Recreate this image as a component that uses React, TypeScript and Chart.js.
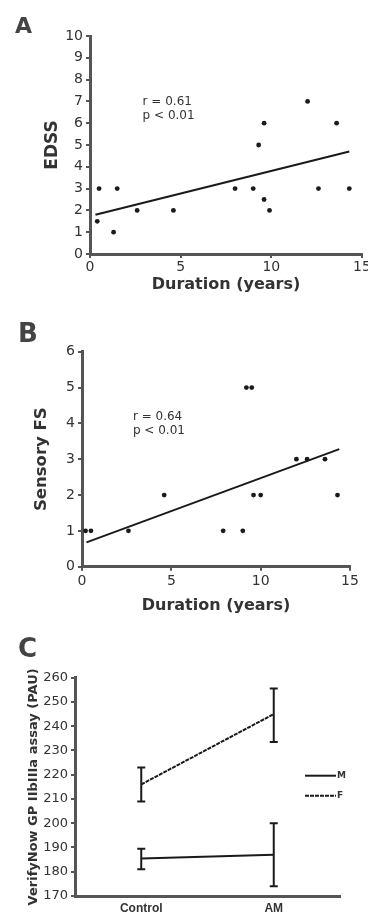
import React, { useEffect, useRef } from 'react';
import { Chart, registerables } from 'chart.js';

Chart.register(...registerables);
Chart.defaults.font.family = "'DejaVu Sans', sans-serif";

// ---------- Panel A data ----------
const durationA = [0.5, 0.4, 1.5, 1.3, 2.6, 4.6, 8.0, 9.0, 9.3, 9.6, 9.6, 9.9, 12.0, 12.6, 13.6, 14.3];
const edss = [3, 1.5, 3, 1, 2, 2, 3, 3, 5, 6, 2.5, 2, 7, 3, 6, 3];
const fitAx = [0.3, 14.3];
const fitAy = [1.8, 4.7];
const statsA = ['r = 0.61', 'p < 0.01'];
const statsAPos = { x: 2.9, y: [7.0, 6.35] };
const ticksA = { xMax: 15, xStep: 5, yMax: 10, yStep: 1 };

// ---------- Panel B data ----------
const durationB = [0.2, 0.5, 2.6, 4.6, 7.9, 9.0, 9.2, 9.5, 9.6, 10.0, 12.0, 12.6, 13.6, 14.3];
const sensoryFS = [1, 1, 1, 2, 1, 1, 5, 5, 2, 2, 3, 3, 3, 2];
const fitBx = [0.25, 14.4];
const fitBy = [0.68, 3.28];
const statsB = ['r = 0.64', 'p < 0.01'];
const statsBPos = { x: 2.85, y: [4.18, 3.79] };
const ticksB = { xMax: 15, xStep: 5, yMax: 6, yStep: 1 };

// ---------- Panel C data ----------
const groups = ['Control', 'AM'];
const seriesLabels = ['M', 'F'];
const meanM = [185.5, 187];
const lowM = [181, 174];
const highM = [189.5, 200];
const meanF = [216, 245];
const lowF = [209, 233.5];
const highF = [223, 255.5];
const yRangeC = { min: 170, max: 260, step: 10 };

const AXIS = '#555';
const TEXT = '#333';
const INK = '#1a1a1a';

const statsPlugin = {
  id: 'statsText',
  afterDatasetsDraw(chart: any, _args: any, opts: any) {
    if (!opts || !opts.lines) return;
    const { ctx } = chart;
    const xs = chart.scales.x;
    const ys = chart.scales.y;
    ctx.save();
    ctx.fillStyle = TEXT;
    ctx.font = "12px 'DejaVu Sans'";
    ctx.textAlign = 'left';
    ctx.textBaseline = 'middle';
    opts.lines.forEach((t: string, i: number) => {
      ctx.fillText(t, xs.getPixelForValue(opts.x), ys.getPixelForValue(opts.y[i]));
    });
    ctx.restore();
  },
};

const errorBarPlugin = {
  id: 'errorBars',
  afterDatasetsDraw(chart: any) {
    const { ctx } = chart;
    const ys = chart.scales.y;
    chart.data.datasets.forEach((ds: any, di: number) => {
      if (!ds.errLow) return;
      const meta = chart.getDatasetMeta(di);
      meta.data.forEach((pt: any, i: number) => {
        const x = pt.x;
        const yl = ys.getPixelForValue(ds.errLow[i]);
        const yh = ys.getPixelForValue(ds.errHigh[i]);
        ctx.save();
        ctx.strokeStyle = INK;
        ctx.lineWidth = 2;
        ctx.beginPath();
        ctx.moveTo(x, yl);
        ctx.lineTo(x, yh);
        ctx.moveTo(x - 4, yl);
        ctx.lineTo(x + 4, yl);
        ctx.moveTo(x - 4, yh);
        ctx.lineTo(x + 4, yh);
        ctx.stroke();
        ctx.restore();
      });
    });
  },
};

const legendPlugin = {
  id: 'sideLegend',
  afterDraw(chart: any) {
    const { ctx, chartArea } = chart;
    const order = [0, 1];
    ctx.save();
    order.forEach((di, row) => {
      const ds = chart.data.datasets[di];
      const y = chartArea.top + 98 + row * 20;
      ctx.strokeStyle = INK;
      ctx.lineWidth = 2;
      ctx.setLineDash(ds.borderDash || []);
      ctx.beginPath();
      ctx.moveTo(chartArea.right - 35, y);
      ctx.lineTo(chartArea.right - 4, y);
      ctx.stroke();
      ctx.setLineDash([]);
      ctx.fillStyle = TEXT;
      ctx.font = "bold 9px 'DejaVu Sans'";
      ctx.textAlign = 'left';
      ctx.textBaseline = 'middle';
      ctx.fillText(ds.label, chartArea.right - 3, y);
    });
    ctx.restore();
  },
};

function scatterConfig(p: any): any {
  return {
    type: 'scatter',
    data: {
      datasets: [
        {
          data: p.xs.map((x: number, i: number) => ({ x, y: p.ys[i] })),
          pointRadius: 2.4,
          pointBackgroundColor: INK,
          pointBorderWidth: 0,
          clip: false,
        },
        {
          data: p.fx.map((x: number, i: number) => ({ x, y: p.fy[i] })),
          showLine: true,
          pointRadius: 0,
          borderColor: INK,
          borderWidth: 2,
          clip: false,
        },
      ],
    },
    options: {
      animation: false,
      responsive: false,
      layout: { padding: { top: p.padTop, right: p.padRight, left: 0, bottom: 0 } },
      plugins: {
        legend: { display: false },
        tooltip: { enabled: false },
        statsText: { lines: p.stats, x: p.statsPos.x, y: p.statsPos.y },
      },
      scales: {
        x: {
          type: 'linear',
          min: 0,
          max: p.ticks.xMax,
          ticks: { stepSize: p.ticks.xStep, font: { size: 14 }, color: TEXT, padding: p.xTickPad },
          grid: { display: true, drawOnChartArea: false, drawTicks: true, tickLength: 4, color: AXIS, lineWidth: 2 },
          border: { display: true, color: AXIS, width: 3 },
          title: {
            display: true,
            text: 'Duration (years)',
            font: { size: 16, weight: 'bold' },
            color: TEXT,
            padding: { top: 0, bottom: p.xTitlePad },
          },
          afterFit: (s: any) => {
            s.height = p.xHeight;
            s.paddingLeft = 0;
            s.paddingRight = 0;
          },
        },
        y: {
          type: 'linear',
          min: 0,
          max: p.ticks.yMax,
          ticks: { stepSize: p.ticks.yStep, font: { size: 14 }, color: TEXT, padding: 3 },
          grid: { display: true, drawOnChartArea: false, drawTicks: true, tickLength: 4, color: AXIS, lineWidth: 2 },
          border: { display: true, color: AXIS, width: 3 },
          title: {
            display: true,
            text: p.yTitle,
            font: { size: p.yTitleSize, weight: 'bold' },
            color: TEXT,
            padding: { top: p.yTitlePad, bottom: 0 },
          },
          afterFit: (s: any) => {
            s.width = p.yWidth;
            s.paddingTop = 0;
            s.paddingBottom = 0;
          },
        },
      },
    },
    plugins: [statsPlugin],
  };
}

function lineConfig(): any {
  return {
    type: 'line',
    data: {
      labels: groups,
      datasets: [
        {
          label: seriesLabels[0],
          data: meanM,
          errLow: lowM,
          errHigh: highM,
          borderColor: INK,
          borderWidth: 2,
          pointRadius: 0,
          clip: false,
        },
        {
          label: seriesLabels[1],
          data: meanF,
          errLow: lowF,
          errHigh: highF,
          borderColor: INK,
          borderWidth: 2,
          borderDash: [4, 1],
          pointRadius: 0,
          clip: false,
        },
      ],
    },
    options: {
      animation: false,
      responsive: false,
      layout: { padding: { top: 59.7, right: 28, left: 0, bottom: 0 } },
      plugins: { legend: { display: false }, tooltip: { enabled: false } },
      scales: {
        x: {
          type: 'category',
          offset: true,
          ticks: { font: { size: 12, weight: 'bold', family: "'Liberation Sans'" }, color: TEXT, padding: -3 },
          grid: { display: false },
          border: { display: true, color: AXIS, width: 3 },
          afterFit: (s: any) => {
            s.height = 21;
            s.paddingLeft = 0;
            s.paddingRight = 0;
          },
        },
        y: {
          type: 'linear',
          min: yRangeC.min,
          max: yRangeC.max,
          ticks: { stepSize: yRangeC.step, font: { size: 13 }, color: TEXT, padding: 3 },
          grid: { display: true, drawOnChartArea: false, drawTicks: true, tickLength: 4, color: AXIS, lineWidth: 2 },
          border: { display: true, color: AXIS, width: 3 },
          title: {
            display: true,
            text: 'VerifyNow GP IIbIIIa assay (PAU)',
            font: { size: 13, weight: 'bold' },
            color: TEXT,
            padding: { top: 26, bottom: 0 },
          },
          afterFit: (s: any) => {
            s.width = 75;
            s.paddingTop = 0;
            s.paddingBottom = 0;
          },
        },
      },
    },
    plugins: [errorBarPlugin, legendPlugin],
  };
}

function ChartCanvas({ config, top, height }: { config: () => any; top: number; height: number }) {
  const ref = useRef<HTMLCanvasElement | null>(null);
  useEffect(() => {
    if (!ref.current) return;
    const chart = new Chart(ref.current, config());
    return () => chart.destroy();
  }, []);
  return (
    <canvas
      ref={ref}
      width={368}
      height={height}
      style={{ position: 'absolute', left: 0, top, width: 368, height }}
    />
  );
}

const letterStyle = (left: number, top: number, size: number): React.CSSProperties => ({
  position: 'absolute',
  left,
  top,
  fontFamily: "'DejaVu Sans', sans-serif",
  fontWeight: 'bold',
  fontSize: size,
  lineHeight: 1,
  color: '#444',
});

export default function App() {
  return (
    <div style={{ position: 'fixed', left: 0, top: 0, width: 368, height: 917, background: '#fff', overflow: 'hidden' }}>
      <ChartCanvas
        top={0}
        height={300}
        config={() =>
          scatterConfig({
            xs: durationA, ys: edss, fx: fitAx, fy: fitAy, stats: statsA, statsPos: statsAPos, ticks: ticksA,
            padTop: 36, padRight: 6, xHeight: 46, yWidth: 90, xTickPad: 1, xTitlePad: 6,
            yTitle: 'EDSS', yTitleSize: 17, yTitlePad: 42,
          })
        }
      />
      <ChartCanvas
        top={300}
        height={318}
        config={() =>
          scatterConfig({
            xs: durationB, ys: sensoryFS, fx: fitBx, fy: fitBy, stats: statsB, statsPos: statsBPos, ticks: ticksB,
            padTop: 51.7, padRight: 18, xHeight: 51.3, yWidth: 82, xTickPad: 2, xTitlePad: 3,
            yTitle: 'Sensory FS', yTitleSize: 16.5, yTitlePad: 32,
          })
        }
      />
      <ChartCanvas top={618} height={299} config={lineConfig} />
      <div style={letterStyle(15, 15, 22)}>A</div>
      <div style={letterStyle(18, 320, 26)}>B</div>
      <div style={letterStyle(18, 635, 26)}>C</div>
    </div>
  );
}
